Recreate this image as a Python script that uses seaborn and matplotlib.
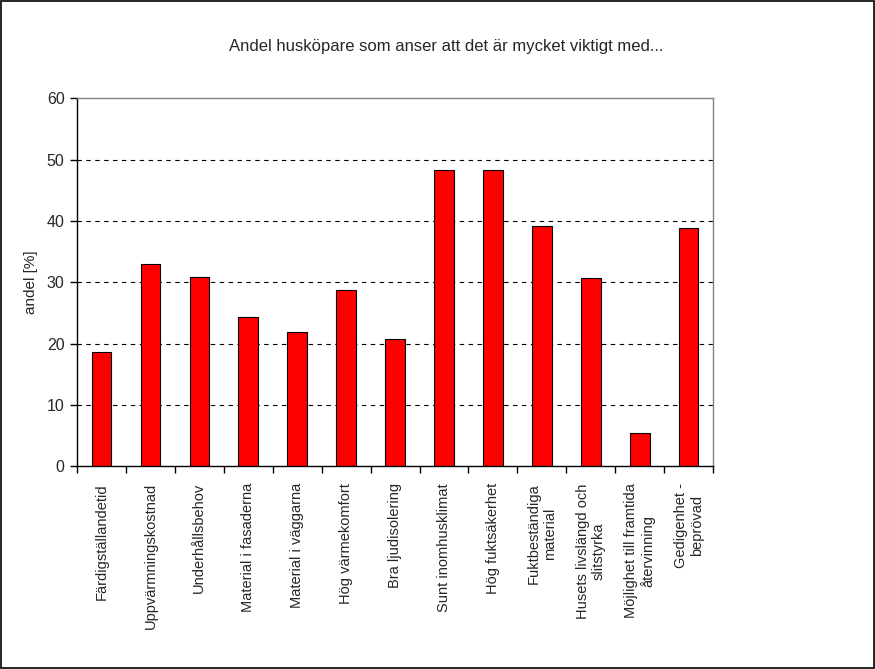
import numpy as np
import pandas as pd
import matplotlib
matplotlib.use("Agg")
import matplotlib.pyplot as plt
import seaborn as sns

# Data
categories = [
    "Färdigställandetid",
    "Uppvärmningskostnad",
    "Underhållsbehov",
    "Material i fasaderna",
    "Material i väggarna",
    "Hög värmekomfort",
    "Bra ljudisolering",
    "Sunt inomhusklimat",
    "Hög fuktsäkerhet",
    "Fuktbeständiga\nmaterial",
    "Husets livslängd och\nslitstyrka",
    "Möjlighet till framtida\nåtervinning",
    "Gedigenhet -\nbeprövad",
]
values = [18.7, 33.0, 30.9, 24.4, 21.9, 28.7, 20.7, 48.3, 48.3, 39.2, 30.8, 5.4, 38.9]
yticks = [0, 10, 20, 30, 40, 50, 60]

title = "Andel husköpare som anser att det är mycket viktigt med..."
ylabel = "andel [%]"

sns.set_style("white")
plt.rcParams["font.family"] = ["Liberation Sans", "DejaVu Sans"]
plt.rcParams["font.size"] = 10

df = pd.DataFrame({"kategori": categories, "andel": values})

fig = plt.figure(figsize=(8.75, 6.69), dpi=100)
ax = fig.add_axes([0.088, 0.3027, 0.727, 0.5503])

sns.barplot(data=df, x="kategori", y="andel", color="#ff0000",
            saturation=1, width=0.4, edgecolor="black", linewidth=0.8, ax=ax)

ax.set_xlim(-0.5, len(categories) - 0.5)
ax.set_ylim(0, 60)
ax.set_yticks(yticks)
ax.set_xlabel("")
ax.set_ylabel("")

# dashed gridlines
for v in yticks[1:-1]:
    ax.axhline(v, color="black", lw=0.8, ls=(0, (4, 4)), zorder=0)

# spines like the original
for side in ["left", "bottom"]:
    ax.spines[side].set_color("black")
    ax.spines[side].set_linewidth(1.0)
for side in ["top", "right"]:
    ax.spines[side].set_color("#808080")
    ax.spines[side].set_linewidth(1.0)

ax.tick_params(axis="y", direction="out", length=5, width=1, color="black",
               left=True, labelsize=11.5, pad=4)
ax.set_xticks(range(len(categories)))
ax.set_xticklabels(categories, rotation=90, ha="center", va="top",
                   multialignment="center", fontsize=10.5)
ax.tick_params(axis="x", which="major", length=0, pad=12)
ax.set_xticks(np.arange(-0.5, len(categories)), minor=True)
ax.tick_params(axis="x", which="minor", direction="out", length=5, width=1,
               color="black", bottom=True)

fig.text(0.51, 0.93, title, ha="center", va="center", fontsize=12)
fig.text(0.036, 0.578, ylabel, ha="center", va="center", rotation=90, fontsize=11)

# border around the whole figure
fig.patches.append(plt.Rectangle((0.001, 0.001), 0.998, 0.998, transform=fig.transFigure,
                                 fill=False, edgecolor="black", lw=1.2))

fig.savefig("out.png", dpi=100)
